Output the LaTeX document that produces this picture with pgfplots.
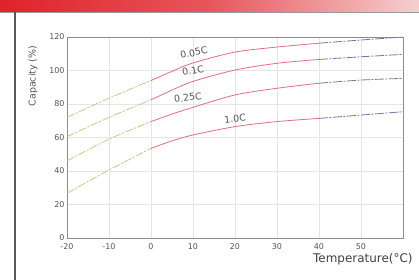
\documentclass[border=0pt]{standalone}
\usepackage{pgfplots}
\pgfplotsset{compat=1.18}
\usepackage{pgfplotstable}
\usepackage{fontspec}
\setmainfont{DejaVu Sans}
\definecolor{lgreen}{HTML}{C8C88A}
\definecolor{lred}{HTML}{E0707E}
\definecolor{lblue}{HTML}{6E7AA6}
\definecolor{txt}{HTML}{555555}
\definecolor{hred}{HTML}{E0222A}
\definecolor{hpink}{HTML}{F6CFD0}
\pgfplotstableread{
T a b c d
-20 72 60.5 46 26.7
-10 83.5 72 59 40.6
0 94 82.5 69.5 53.5
5 99.5 88.3 74 58
10 104.5 93.5 78 61.5
20 111 100.3 85.4 66.5
30 114 104.3 89.4 69.5
40 116.3 106.6 92.4 71.4
50 118.2 108.2 94.3 73.4
60 120 109.6 95.3 75.4
}\data
\begin{document}
\begin{tikzpicture}
\useasboundingbox (-67bp,-42bp) rectangle (352bp,238bp);
\fill[white] (-67bp,-42bp) rectangle (352bp,238bp);
\shade[left color=hred, right color=hpink, middle color=hred!70!hpink] (-67bp,226bp) rectangle (352bp,238bp);
\draw[gray!80, line width=0.8bp] (-67bp,226bp) -- (352bp,226bp);
\draw[black!65, line width=1.6bp] (-52bp,226bp) -- (-52bp,-42bp);
\begin{axis}[
  at={(0,0)}, anchor=south west,
  scale only axis, width=336bp, height=201bp,
  xmin=-20, xmax=60, ymin=0, ymax=120,
  xtick={-20,-10,...,50}, ytick={0,20,...,120},
  grid=major, major grid style={black!10, line width=0.6bp},
  axis line style={black!45, line width=0.9bp},
  tick style={draw=none},
  tick label style={font=\fontsize{8}{9}\selectfont, text=txt},
  xticklabel style={yshift=-2bp},
  yticklabel style={xshift=1bp},
  /pgf/number format/assume math mode=true,
  clip=false,
  every axis plot/.append style={line width=0.8bp, smooth},
]
\foreach \c in {a,b,c,d}{
\addplot[lgreen, dash pattern=on 8bp off 1.5bp on 2bp off 1.5bp] table[x=T, y=\c, restrict x to domain=-20:0] {\data};
\addplot[lred] table[x=T, y=\c, restrict x to domain=0:40] {\data};
\addplot[lblue, dash pattern=on 9bp off 1.5bp on 2bp off 1.5bp] table[x=T, y=\c, restrict x to domain=40:60] {\data};
}
\node[text=txt, font=\fontsize{9.5}{10}\selectfont, rotate=12] at (axis cs:10.2,110.6) {0.05C};
\node[text=txt, font=\fontsize{9.5}{10}\selectfont, rotate=10] at (axis cs:10,99.9) {0.1C};
\node[text=txt, font=\fontsize{9.5}{10}\selectfont, rotate=8] at (axis cs:8.8,83.8) {0.25C};
\node[text=txt, font=\fontsize{9.5}{10}\selectfont, rotate=6] at (axis cs:20,71.2) {1.0C};
\end{axis}
\node[text=txt, font=\fontsize{9.5}{10}\selectfont, rotate=90] at (-34bp,162bp) {Capacity (\%)};
\node[text=black!75, font=\fontsize{12}{13}\selectfont, anchor=base west, inner sep=0pt] at (246bp,-24bp) {Temperature(°C)};
\end{tikzpicture}
\end{document}
